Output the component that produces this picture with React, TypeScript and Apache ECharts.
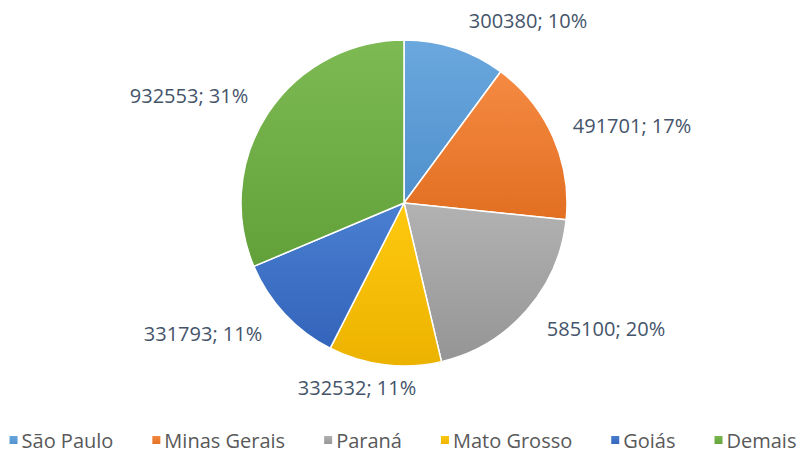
import React, { useEffect, useRef } from "react";
import * as echarts from "echarts";

const categories = ["São Paulo", "Minas Gerais", "Paraná", "Mato Grosso", "Goiás", "Demais"];
const values = [300380, 491701, 585100, 332532, 331793, 932553];
const percents = ["10%", "17%", "20%", "11%", "11%", "31%"];

const topColors = ["#6aa8de", "#f58a42", "#b2b2b2", "#ffc90f", "#4a7fd0", "#7dba53"];
const bottomColors = ["#4f8fcc", "#e26f22", "#959595", "#ecb200", "#3364bb", "#62a03a"];
const legendColors = ["#5B9BD5", "#ED7D31", "#A5A5A5", "#FFC000", "#4472C4", "#70AD47"];
// label anchor positions (label centres, px)
const labelPos: [number, number][] = [
  [528, 20],
  [632, 125],
  [606, 328],
  [357, 387],
  [203, 333],
  [189, 95],
];

export default function App() {
  const ref = useRef<HTMLDivElement>(null);
  useEffect(() => {
    if (!ref.current) return;
    const chart = echarts.init(ref.current, null, { renderer: "svg" });
    chart.setOption({
      animation: false,
      color: legendColors,
      legend: {
        bottom: 4,
        left: "center",
        width: 804,
        padding: 0,
        itemWidth: 10,
        itemHeight: 10,
        itemGap: 37,
        icon: "rect",
        textStyle: { color: "#595959", fontSize: 20, fontFamily: "Open Sans", padding: [0, 0, 0, -2] },
        data: categories,
      },
      series: [
        {
          type: "pie",
          center: [404, 203],
          radius: 163,
          startAngle: 90,
          clockwise: true,
          itemStyle: { borderColor: "#ffffff", borderWidth: 1.5 },
          emphasis: { disabled: true },
          label: {
            show: true,
            position: "outside",
            formatter: (p: any) => `${p.value}; ${percents[p.dataIndex]}`,
            color: "#44546A",
            fontSize: 20,
            fontFamily: "Open Sans",
          },
          labelLine: { show: false },
          labelLayout: (params: any) => {
            const pos = labelPos[params.dataIndex];
            return {
              x: pos[0] - params.labelRect.width / 2,
              y: pos[1],
              align: "left",
              verticalAlign: "middle",
            };
          },
          data: categories.map((name, i) => ({
            name,
            value: values[i],
            itemStyle: {
              color: new echarts.graphic.LinearGradient(0, 0, 0, 1, [
                { offset: 0, color: topColors[i] },
                { offset: 1, color: bottomColors[i] },
              ]),
            },
          })),
        },
      ],
    });
    return () => chart.dispose();
  }, []);
  return (
    <div
      ref={ref}
      style={{ position: "fixed", left: 0, top: 0, width: 804, height: 454, background: "#fff" }}
    />
  );
}
